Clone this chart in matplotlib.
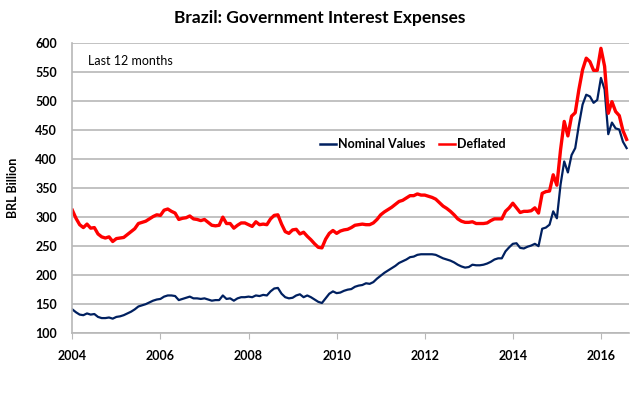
import numpy as np
import matplotlib
matplotlib.use("Agg")
import matplotlib.pyplot as plt

# --- Data (BRL billion, last 12 months, monthly Jan 2004 - Aug 2016) ---
START_YEAR = 2004

nominal = [
    141, 136, 132, 131, 134, 132, 133, 128, 126, 126, 127, 125,  # 2004
    128, 129, 131, 134, 137, 141, 146, 148, 150, 153, 156, 158,  # 2005
    159, 163, 165, 165, 164, 157, 159, 161, 163, 160, 160, 159,  # 2006
    160, 158, 156, 157, 157, 165, 159, 160, 156, 160, 162, 162,  # 2007
    163, 162, 165, 164, 166, 165, 172, 177, 178, 168, 162, 160,  # 2008
    161, 165, 167, 162, 165, 162, 158, 154, 152, 160, 168, 172,  # 2009
    169, 170, 173, 175, 176, 180, 182, 183, 186, 185, 188, 194,  # 2010
    199, 204, 208, 212, 216, 221, 224, 227, 231, 232, 235, 236,  # 2011
    236, 236, 236, 235, 232, 229, 227, 225, 222, 218, 215, 213,  # 2012
    214, 218, 217, 217, 218, 220, 223, 227, 229, 229, 241, 248,  # 2013
    254, 255, 247, 246, 249, 251, 254, 250, 280, 282, 287, 310,  # 2014
    298, 356, 396, 377, 407, 419, 459, 494, 511, 508, 497, 502,  # 2015
    540, 520, 443, 463, 453, 451, 430, 419,                      # 2016
]

deflated = [
    312, 298, 287, 282, 288, 281, 282, 271, 266, 264, 266, 258,  # 2004
    263, 264, 265, 270, 275, 280, 289, 291, 293, 297, 301, 304,  # 2005
    303, 312, 314, 310, 307, 296, 298, 299, 302, 297, 296, 294,  # 2006
    296, 291, 286, 285, 286, 300, 289, 289, 281, 286, 290, 290,  # 2007
    287, 284, 292, 287, 288, 287, 297, 303, 304, 288, 275, 272,  # 2008
    278, 279, 271, 274, 267, 261, 254, 248, 247, 262, 272, 277,  # 2009
    272, 276, 278, 279, 282, 286, 287, 288, 287, 287, 290, 296,  # 2010
    304, 309, 313, 317, 322, 327, 329, 333, 337, 337, 340, 338,  # 2011
    338, 336, 334, 331, 325, 319, 315, 310, 304, 297, 293, 291,  # 2012
    291, 292, 289, 289, 289, 290, 294, 297, 297, 297, 310, 316,  # 2013
    324, 316, 308, 310, 310, 311, 316, 307, 341, 344, 345, 373,  # 2014
    355, 416, 465, 440, 474, 480, 520, 554, 574, 568, 553, 553,  # 2015
    591, 560, 479, 499, 482, 475, 449, 434,                      # 2016
]

x_ticks = [2004, 2006, 2008, 2010, 2012, 2014, 2016]
y_ticks = [100, 150, 200, 250, 300, 350, 400, 450, 500, 550, 600]

TITLE = "Brazil: Government Interest Expenses"
NOTE = "Last 12 months"
Y_LABEL = "BRL Billion"

plt.rcParams["font.family"] = ["Lato", "DejaVu Sans"]

months = START_YEAR + np.arange(len(nominal)) / 12.0

fig = plt.figure(figsize=(6.4, 3.99), dpi=100)
ax = fig.add_axes([0.113, 0.165, 0.870, 0.727])

grid_color = "#b8b8b8"
ax.set_axisbelow(True)
ax.grid(axis="y", color=grid_color, linewidth=1.2)

ax.plot(months, nominal, color="#002060", linewidth=1.6, label="Nominal Values")
ax.plot(months, deflated, color="#ff0000", linewidth=2.4, label="Deflated")

ax.set_xlim(START_YEAR, 2016.64)
ax.set_ylim(100, 600)
ax.set_xticks(x_ticks)
ax.set_yticks(y_ticks)
ax.set_xticklabels([str(t) for t in x_ticks], fontweight="bold", fontsize=9)
ax.set_yticklabels([str(t) for t in y_ticks], fontweight="bold", fontsize=9)
ax.tick_params(axis="x", length=4, color=grid_color, pad=8)
ax.tick_params(axis="y", length=0, pad=11)

for side in ("top", "right"):
    ax.spines[side].set_visible(False)
for side in ("left", "bottom"):
    ax.spines[side].set_color(grid_color)
    ax.spines[side].set_linewidth(1.2)

ax.set_ylabel(Y_LABEL, fontsize=9, fontweight="bold", labelpad=12)
ax.text(0.029, 0.938, NOTE, transform=ax.transAxes, fontsize=9, va="center")

fig.text(0.5, 0.955, TITLE, ha="center", va="center", fontsize=12.5, fontweight="bold")

leg = fig.legend(loc="center", bbox_to_anchor=(0.645, 0.639), ncol=2, frameon=False,
                 prop={"size": 9, "weight": "bold"}, handlelength=1.3,
                 handletextpad=0.15, columnspacing=1.1)
for line in leg.get_lines():
    line.set_linewidth(1.8)

fig.savefig("out.png", dpi=100)
